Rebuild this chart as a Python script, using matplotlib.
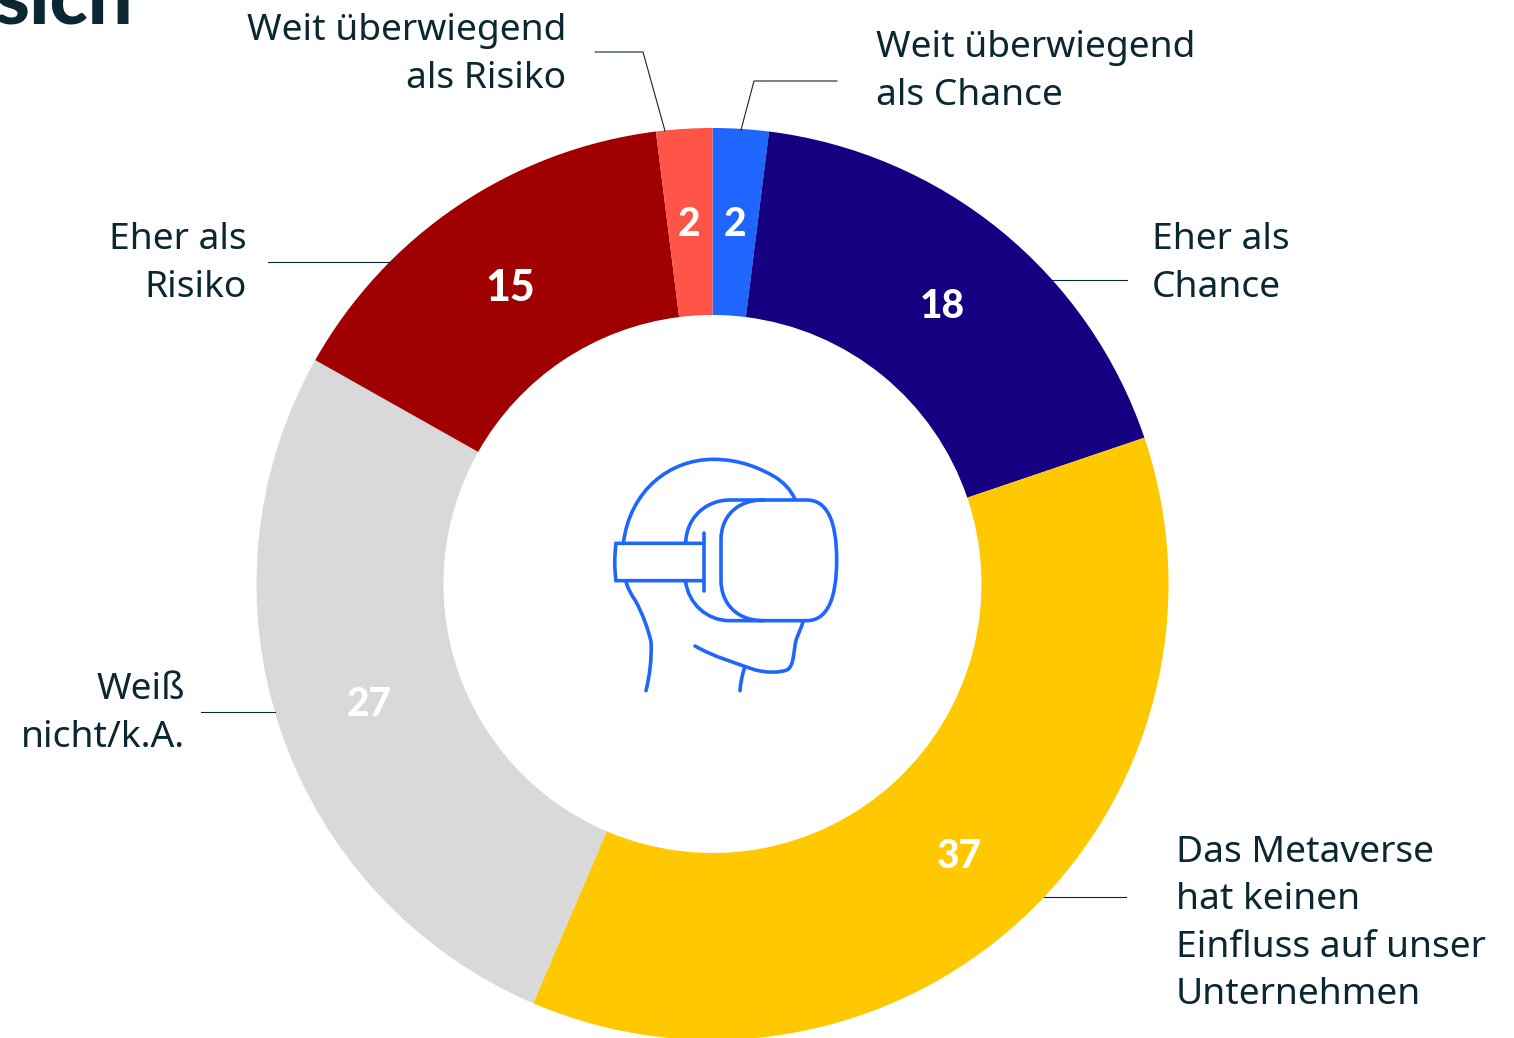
import matplotlib
matplotlib.use("Agg")
import matplotlib.pyplot as plt
from matplotlib.path import Path
from matplotlib.patches import PathPatch

values = [2, 18, 37, 27, 15, 2]
colors = ["#1F66FF", "#140080", "#FFC800", "#D9D9D9", "#A00000", "#FF5448"]
value_labels = ["2", "18", "37", "27", "15", "2"]
value_sizes = [28, 28, 28, 28, 31, 28]
value_pos = [(735, 225), (942, 306), (959, 856), (369, 705), (510, 288), (689, 225)]

cat_labels = ["Weit überwiegend\nals Chance", "Eher als\nChance",
              "Das Metaverse\nhat keinen\nEinfluss auf unser\nUnternehmen",
              "Weiß\nnicht/k.A.", "Eher als\nRisiko", "Weit überwiegend\nals Risiko"]
cat_pos = [(876, 72, "left"), (1152, 264, "left"), (1176, 924, "left"),
           (185, 714, "right"), (247, 264, "right"), (566, 55, "right")]
leaders = [[(837, 81), (754, 81), (741, 130)], [(1052, 280), (1127, 280)],
           [(1044, 897), (1126, 897)], [(201, 712), (275, 712)],
           [(268, 262), (390, 262)], [(595, 52), (643, 52), (665, 131)]]

W, H = 1514, 1038
TXT = "#0B2832"
ICON = "#1F66FF"
plt.rcParams["font.family"] = ["Noto Sans", "DejaVu Sans"]
BOLD = ["Lato", "DejaVu Sans"]

fig = plt.figure(figsize=(W / 100, H / 100), dpi=100)
ax = fig.add_axes([0, 0, 1, 1])


def py(y):
    return H - y


ax.pie(values, colors=colors, startangle=90, counterclock=False,
       center=(712.5, py(584)), radius=456,
       wedgeprops=dict(width=187, linewidth=0), frame=False)
ax.set_xlim(0, W)
ax.set_ylim(0, H)
ax.set_aspect("equal")
ax.axis("off")

for t, s, (x, y) in zip(value_labels, value_sizes, value_pos):
    ax.text(x, py(y), t, color="white", fontsize=s, fontweight="black", family=BOLD, ha="center", va="center")

for t, (x, y, ha) in zip(cat_labels, cat_pos):
    ax.text(x, py(y), t, color=TXT, fontsize=26.8, ha=ha, va="center", linespacing=1.42)

for pts in leaders:
    ax.plot([p[0] for p in pts], [py(p[1]) for p in pts], color=TXT, lw=0.8, solid_joinstyle="miter")

# cut-off headline at the top left
ax.text(-6, py(24), "sich", color=TXT, fontsize=57, fontweight="black", family=BOLD, ha="left", va="baseline")


def curve(start, *segs):
    verts = [start]
    codes = [Path.MOVETO]
    for s in segs:
        if len(s) == 1:
            verts.append(s[0])
            codes.append(Path.LINETO)
        else:
            verts.extend(s)
            codes.extend([Path.CURVE4] * 3)
    verts = [(590 + x / 3, py(440 + y / 3)) for x, y in verts]
    ax.add_patch(PathPatch(Path(verts, codes), fill=False, edgecolor=ICON, lw=2.6, capstyle="round"))


# head
curve((100, 310), ((120, 150), (240, 58), (370, 58)), ((450, 58), (510, 85), (550, 108)),
      ((580, 125), (603, 150), (615, 178)))
# goggle front
curve((520, 180), ((650, 180),), ((710, 180), (740, 240), (740, 360)), ((740, 480), (710, 542), (650, 542)),
      ((520, 542),), ((440, 542), (393, 490), (393, 420)), ((393, 300),), ((393, 230), (440, 180), (520, 180)))
# goggle back
curve((287, 308), ((290, 230), (350, 180), (420, 180)), ((520, 180),))
curve((287, 425), ((295, 490), (350, 542), (420, 542)), ((520, 542),))
# strap
curve((342, 310), ((78, 310),), ((73, 350), (73, 385), (78, 422)), ((342, 422),))
curve((342, 280), ((342, 452),))
# neck and jaw
curve((108, 425), ((115, 450), (125, 465), (135, 480)), ((160, 525), (175, 570), (183, 605)),
      ((186, 660), (178, 710), (168, 752)))
curve((315, 618), ((370, 650), (440, 670), (490, 688)), ((530, 700), (570, 698), (590, 690)),
      ((615, 680), (610, 620), (620, 595)), ((628, 575), (635, 560), (640, 542)))
curve((463, 685), ((455, 710), (452, 730), (450, 752)))

fig.savefig("out.png", dpi=100)
